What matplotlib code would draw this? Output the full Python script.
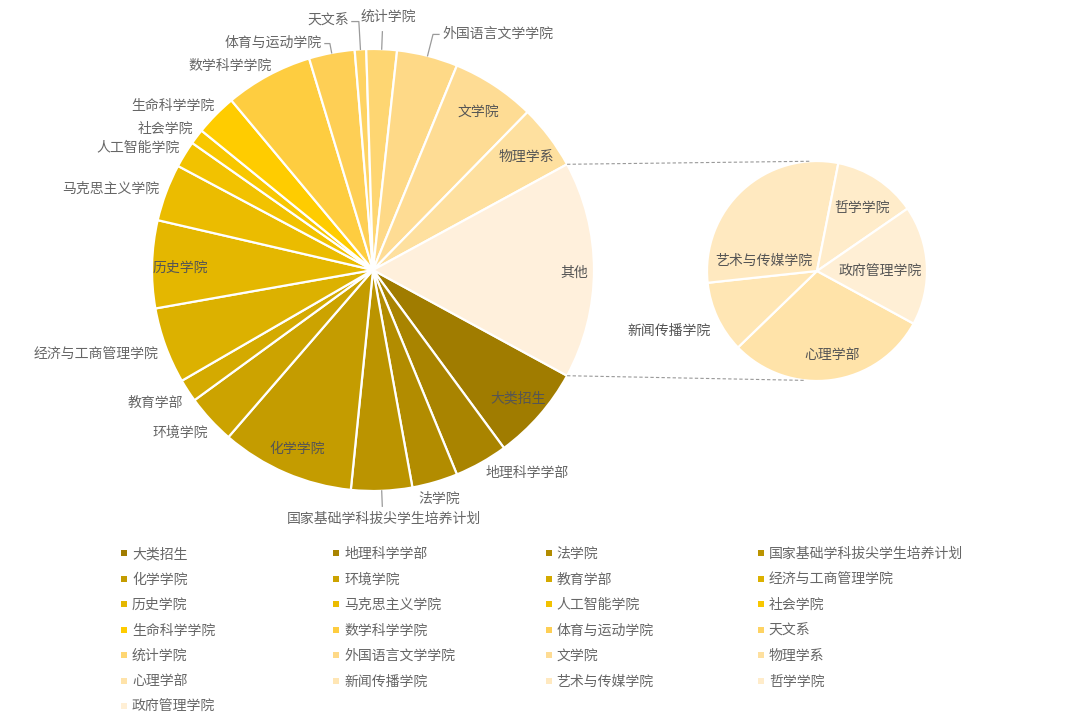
import matplotlib
matplotlib.use('Agg')
import matplotlib.pyplot as plt
import numpy as np

plt.rcParams['font.family'] = ['Noto Sans CJK SC', 'DejaVu Sans']

# main pie, clockwise from the lower edge of the "其他" slice
main_names = ['大类招生', '地理科学学部', '法学院', '国家基础学科拔尖学生培养计划', '化学学院',
              '环境学院', '教育学部', '经济与工商管理学院', '历史学院', '马克思主义学院',
              '人工智能学院', '社会学院', '生命科学学院', '数学科学学院', '体育与运动学院',
              '天文系', '统计学院', '外国语言文学学院', '文学院', '物理学系']
main_values = [25, 14, 12, 16, 35, 13, 6, 20, 23, 15, 7, 4, 11, 23, 12, 3, 8, 16, 22, 17]

# breakdown of "其他"
other_label = '其他'
other_names = ['心理学部', '新闻传播学院', '艺术与传媒学院', '哲学学院', '政府管理学院']
other_values = [17, 6, 17, 7, 10]

colors = ['#a07c00', '#a98400', '#b28c00', '#bb9400', '#c49c00', '#cca300', '#d4aa00',
          '#dcb100', '#e4b700', '#ebbc00', '#f2c200', '#f8c700', '#ffcc00', '#fecd40',
          '#fecf55', '#fed363', '#fed672', '#fed987', '#fedc94', '#fee09f', '#ffe3a9',
          '#ffe6b4', '#ffe9c0', '#ffecca', '#ffefd5']
other_color = '#fff0dc'

W, H = 1080, 726
fig = plt.figure(figsize=(W / 100, H / 100), dpi=100)
ax = fig.add_axes([0, 0, 1, 1])

c1 = (373, H - 270)
R1 = 221
c2 = (817, H - 271)
R2 = 110
txt_col = '#666666'
in_col = '#555555'
fs = 10
dy_txt = -2.5  # matplotlib centres CJK text a little higher than the reference

vals = main_values + [sum(other_values)]
start = -360 * vals[-1] / sum(vals) / 2
all_names = main_names + other_names

w1, _ = ax.pie(vals, colors=colors[:len(main_values)] + [other_color], startangle=start,
               counterclock=False, center=c1, radius=R1,
               wedgeprops=dict(edgecolor='white', linewidth=1.6))
w2, _ = ax.pie(other_values, colors=colors[len(main_values):], startangle=start,
               counterclock=False, center=c2, radius=R2,
               wedgeprops=dict(edgecolor='white', linewidth=1.6))


def polar(c, r, ang):
    a = np.deg2rad(ang)
    return c[0] + r * np.cos(a), c[1] + r * np.sin(a)


def label(x, y, s, **kw):
    kw.setdefault('ha', 'center')
    kw.setdefault('va', 'center')
    kw.setdefault('color', txt_col)
    ax.text(x, y + dy_txt, s, fontsize=fs, **kw)


inside = ['大类招生', '化学学院', '历史学院', '文学院', '物理学系']
# leader-line labels: (radius factor of elbow, horizontal run in px)
leaders = {'天文系': (1.126, -7), '外国语言文学学院': (1.10, 6), '体育与运动学院': (1.043, -5),
           '统计学院': (1.079, 0), '国家基础学科拔尖学生培养计划': (1.07, 0)}
lc = '#9a9a9a'

for name, w in zip(main_names + [other_label], w1):
    mid = (w.theta1 + w.theta2) / 2
    if mid > 180:
        mid -= 360
    if name == other_label:
        x, y = polar(c1, R1 * 0.91, mid)
        label(x, y, name, color=in_col)
    elif name in inside:
        x, y = polar(c1, R1 * 0.87, mid)
        label(x, y, name, color=in_col)
    elif name in leaders:
        k, run = leaders[name]
        x0, y0 = polar(c1, R1, mid)
        x1, y1 = polar(c1, R1 * k, mid)
        if run == 0:
            ax.plot([x0, x1], [y0, y1], color=lc, lw=0.9)
            if y1 > c1[1]:
                label(x1 + 6, y1 + 17, name)
            else:
                label(x1 + 2, y1 - 10, name)
        else:
            ax.plot([x0, x1, x1 + run], [y0, y1, y1], color=lc, lw=0.9)
            label(x1 + run + np.sign(run) * 3, y1 + 3, name,
                  ha='left' if run > 0 else 'right')
    else:
        cs = np.cos(np.deg2rad(mid))
        if abs(cs) < 0.3:
            x, y = polar(c1, R1 + 15, mid)
            label(x, y, name)
        else:
            ang = mid
            if cs < 0:
                ang = mid - 2.5 * np.sin(np.deg2rad(mid))
            x, y = polar(c1, R1 + 9, ang)
            label(x, y, name, ha='left' if cs > 0 else 'right')

# labels of the breakdown pie: (angle, radius factor)
sub_pos = {'心理学部': (-79.5, 0.75), '新闻传播学院': (-158.9, 1.44), '艺术与传媒学院': (166.2, 0.5),
           '哲学学院': (55.7, 0.725), '政府管理学院': (1.8, 0.57)}
for name in other_names:
    ang, k = sub_pos[name]
    x, y = polar(c2, R2 * k, ang)
    label(x, y, name, color=in_col)

# connector lines between "其他" and the breakdown pie
ot = w1[-1]
for a1, a2 in [(ot.theta2, 94), (ot.theta1, -96)]:
    p = polar(c1, R1, a1)
    q = polar(c2, R2, a2)
    ax.plot([p[0], q[0]], [p[1], q[1]], color='#999999', lw=0.8, ls=(0, (3, 2)))

# legend, 4 columns filled row by row
for i, name in enumerate(all_names):
    row, col = divmod(i, 4)
    lx = 124 + col * 212.3
    ly = H - (553 + row * 25.5)
    ax.scatter([lx], [ly], marker='s', s=18, color=colors[i], linewidths=0)
    label(lx + 8, ly + 1.5, name, ha='left')

ax.set_xlim(0, W)
ax.set_ylim(0, H)
ax.set_aspect('equal')
ax.axis('off')

fig.savefig('out.png', dpi=100, facecolor='white')
